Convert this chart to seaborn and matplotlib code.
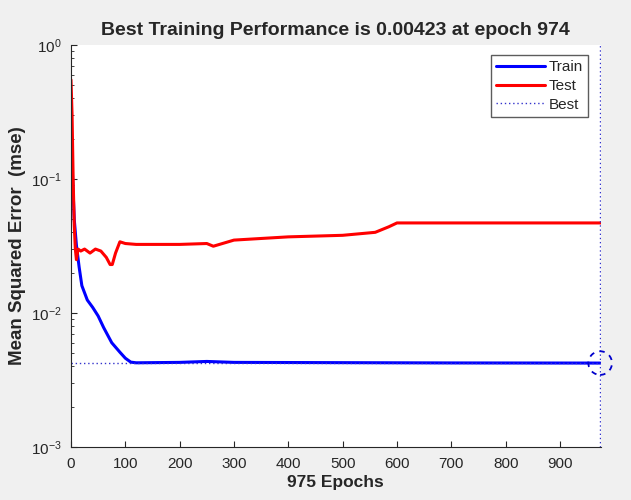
import matplotlib
matplotlib.use("Agg")
import matplotlib.pyplot as plt
import seaborn as sns
import pandas as pd
import numpy as np

# ---- data ----
train_epochs = [0, 3, 6, 10, 15, 20, 30, 40, 50, 60, 75, 90, 100, 110, 120, 200, 250, 300, 500, 700, 974]
train_mse = [0.23, 0.1, 0.05, 0.032, 0.022, 0.016, 0.0125, 0.011, 0.0095, 0.0078, 0.006, 0.0051, 0.0046, 0.0043, 0.00425, 0.00428, 0.00435, 0.00428, 0.00426, 0.00424, 0.00423]

test_epochs = [0, 2, 4, 6, 8, 10, 13, 18, 25, 35, 45, 55, 65, 72, 76, 82, 90, 100, 120, 200, 250, 262, 300, 400, 500, 560, 585, 600, 700, 975]
test_mse = [0.55, 0.3, 0.1, 0.045, 0.03, 0.025, 0.03, 0.029, 0.030, 0.028, 0.030, 0.029, 0.026, 0.023, 0.023, 0.028, 0.034, 0.033, 0.0325, 0.0325, 0.033, 0.0315, 0.035, 0.037, 0.038, 0.040, 0.044, 0.047, 0.047, 0.047]

best_epoch = 974
best_value = 0.00423
total_epochs = 975
x_ticks = [0, 100, 200, 300, 400, 500, 600, 700, 800, 900]
y_ticks = [1e-3, 1e-2, 1e-1, 1e0]

sns.set_style("ticks")
plt.rcParams["font.family"] = ["Liberation Sans", "DejaVu Sans"]

fig = plt.figure(figsize=(6.31, 5.0), dpi=100, facecolor="#f0f0f0")
ax = fig.add_axes([0.1125, 0.106, 0.8395, 0.804])
ax.set_facecolor("white")

train_df = pd.DataFrame({"epoch": train_epochs, "mse": train_mse})
test_df = pd.DataFrame({"epoch": test_epochs, "mse": test_mse})

sns.lineplot(data=train_df, x="epoch", y="mse", ax=ax, color="#0000ff", linewidth=2.2, label="Train")
sns.lineplot(data=test_df, x="epoch", y="mse", ax=ax, color="#ff0000", linewidth=2.2, label="Test")
ax.plot([0, best_epoch], [best_value, best_value], color="#3333cc", linestyle=(0, (1, 2)), linewidth=1.0, label="Best")
ax.axvline(best_epoch, color="#3333cc", linestyle=(0, (1, 2)), linewidth=1.0)

ax.set_yscale("log")
ax.set_xlim(0, total_epochs)
ax.set_ylim(1e-3, 1e0)
ax.set_xticks(x_ticks)
ax.set_yticks(y_ticks)

# dashed circle marker at best point
ax.scatter([best_epoch], [best_value], s=17 ** 2, facecolors="none", edgecolors="#0000cc",
           linewidths=1.3, linestyles=(0, (3, 3)), clip_on=False, zorder=5)

ax.tick_params(axis="both", which="both", direction="in", labelsize=11, colors="#262626", labelcolor="#262626", pad=7)
ax.tick_params(axis="both", which="major", length=4)
ax.tick_params(axis="y", which="minor", length=2)
for s in ["top", "right"]:
    ax.spines[s].set_visible(False)
for s in ["left", "bottom"]:
    ax.spines[s].set_color("#262626")
    ax.spines[s].set_linewidth(0.8)

ax.set_title("Best Training Performance is 0.00423 at epoch 974", fontsize=14, fontweight="bold", pad=7)
ax.set_xlabel("975 Epochs", fontsize=12.5, fontweight="bold", labelpad=3)
ax.set_ylabel("Mean Squared Error  (mse)", fontsize=13.5, fontweight="bold", labelpad=3)

leg = ax.legend(loc="upper right", bbox_to_anchor=(0.976, 0.975), fontsize=11, frameon=True, fancybox=False,
                handlelength=3.2, handletextpad=0.2, borderpad=0.35, labelspacing=0.3, borderaxespad=0.0)
leg.get_frame().set_edgecolor("#333333")
leg.get_frame().set_linewidth(1.0)

fig.savefig("out.png", dpi=100, facecolor=fig.get_facecolor())
